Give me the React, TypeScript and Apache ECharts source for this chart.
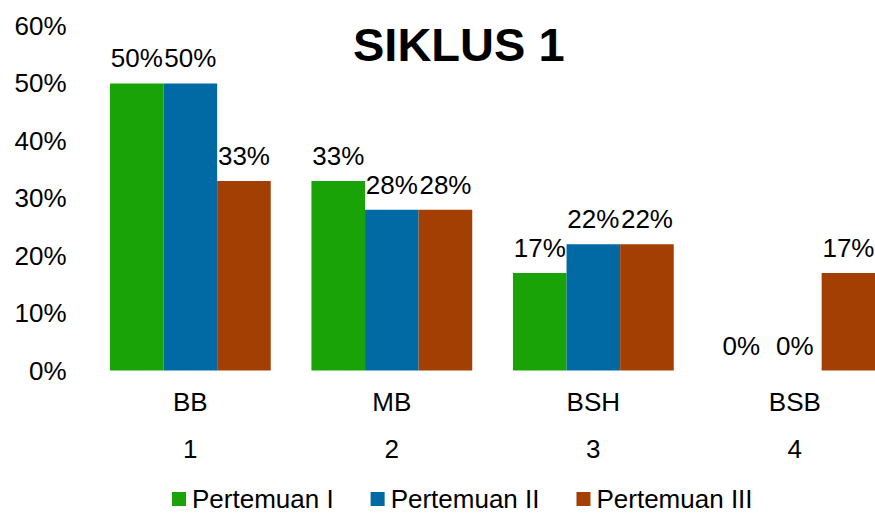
import React, { useEffect, useRef } from "react";
import * as echarts from "echarts";

const categories = ["BB", "MB", "BSH", "BSB"];
const categoryNumbers = ["1", "2", "3", "4"];
const seriesNames = ["Pertemuan I", "Pertemuan II", "Pertemuan III"];
const pertemuan1 = [50, 33, 17, 0];
const pertemuan2 = [50, 28, 22, 0];
const pertemuan3 = [33, 28, 22, 17];
const yTicks = [0, 10, 20, 30, 40, 50, 60];
const colors = ["#19A307", "#0169A3", "#A33F02"];

const FONT = "'Liberation Sans', Arial, sans-serif";

export default function App() {
  const ref = useRef<HTMLDivElement>(null);
  useEffect(() => {
    if (!ref.current) return;
    const chart = echarts.init(ref.current, null, { renderer: "svg" });
    const values = [pertemuan1, pertemuan2, pertemuan3];
    chart.setOption({
      animation: false,
      backgroundColor: "#ffffff",
      textStyle: { fontFamily: FONT, color: "#000" },
      title: {
        text: "SIKLUS 1",
        left: 348,
        top: 16,
        textStyle: { fontFamily: FONT, fontSize: 47, fontWeight: "bold", color: "#000" },
      },
      legend: {
        data: seriesNames,
        left: 172,
        top: 486,
        padding: 0,
        itemWidth: 14,
        itemHeight: 14,
        itemGap: 37,
        icon: "rect",
        textStyle: { fontFamily: FONT, fontSize: 26, lineHeight: 24, color: "#000", padding: [0, 0, 0, 1] },
      },
      grid: { left: 89.6, right: 4.4, top: 26, bottom: 143.5, containLabel: false },
      xAxis: [
        {
          type: "category",
          data: categories,
          position: "bottom",
          axisLine: { show: false },
          axisTick: { show: false },
          axisLabel: { fontFamily: FONT, fontSize: 26, color: "#000", margin: 18 },
        },
        {
          type: "category",
          data: categoryNumbers,
          position: "bottom",
          offset: 47,
          axisLine: { show: false },
          axisTick: { show: false },
          axisLabel: { fontFamily: FONT, fontSize: 26, color: "#000", margin: 18 },
        },
      ],
      yAxis: {
        type: "value",
        min: yTicks[0],
        max: yTicks[yTicks.length - 1],
        interval: 10,
        axisLine: { show: false },
        axisTick: { show: false },
        splitLine: { show: false },
        axisLabel: {
          fontFamily: FONT,
          fontSize: 26,
          color: "#000",
          margin: 23,
          formatter: (v: number) => `${v}%`,
        },
      },
      series: seriesNames.map((name, i) => ({
        name,
        type: "bar",
        xAxisIndex: 0,
        data: values[i],
        barGap: "0%",
        barCategoryGap: "20.2%",
        itemStyle: { color: colors[i] },
        label: {
          show: true,
          position: "top",
          distance: 12,
          fontFamily: FONT,
          fontSize: 26,
          color: "#000",
          formatter: (p: any) => `${p.value}%`,
        },
      })),
    });
    return () => chart.dispose();
  }, []);
  return (
    <div style={{ position: "fixed", left: 0, top: 0, width: 875, height: 514, overflow: "hidden", background: "#fff" }}>
      <div ref={ref} style={{ width: 900, height: 514 }} />
    </div>
  );
}
